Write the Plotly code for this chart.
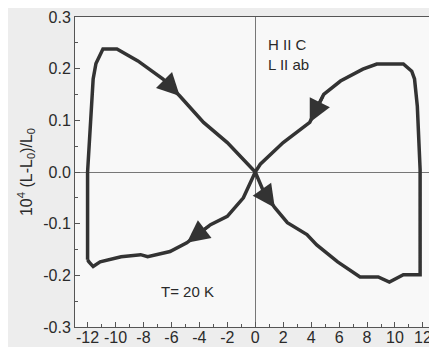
import plotly.graph_objects as go

# Magnetic field H (kOe) and magnetostriction 10^4 (L-L0)/L0, traced along the loop
field = [-12.0, -12.0, -11.6, -11.4, -10.9, -9.9, -8.4, -6.6, -5.4, -3.7, -2.0, -0.85, 0.0,
         0.6, 1.4, 2.3, 3.7, 4.4, 5.9, 7.5, 8.8, 9.6, 10.6, 11.8, 11.8, 11.6, 11.4, 11.2,
         10.6, 8.7, 7.7, 6.1, 4.9, 3.9, 2.0, 0.36, 0.0,
         -0.85, -2.0, -3.2, -4.9, -6.1, -7.7, -8.2, -9.6, -11.1, -11.6, -11.9, -12.0]
strain = [-0.17, 0.0, 0.18, 0.21, 0.238, 0.238, 0.215, 0.18, 0.147, 0.096, 0.057, 0.024, 0.0,
          -0.038, -0.069, -0.098, -0.121, -0.141, -0.174, -0.203, -0.203, -0.213, -0.199, -0.199, 0.005, 0.127, 0.18, 0.195,
          0.209, 0.209, 0.199, 0.176, 0.15, 0.096, 0.057, 0.015, 0.0,
          -0.05, -0.086, -0.102, -0.137, -0.154, -0.164, -0.16, -0.164, -0.174, -0.183, -0.174, -0.17]
arrow_idx = [8, 14, 33, 40]

x_ticks = [-12, -10, -8, -6, -4, -2, 0, 2, 4, 6, 8, 10, 12]
x_tick_labels = ["-12", "-10", "-8", "-6", "-4", "-2", "0", "2", "4", "6", "8", "10", "12"]
y_ticks = [-0.3, -0.2, -0.1, 0.0, 0.1, 0.2, 0.3]
y_tick_labels = ["-0.3", "-0.2", "-0.1", "0.0", "0.1", "0.2", "0.3"]

line_color = "#333333"
font = dict(family="Liberation Sans, Arial, sans-serif", size=16, color="#2a2a2a")

fig = go.Figure()
fig.add_trace(go.Scatter(x=field, y=strain, mode="lines",
                         line=dict(color=line_color, width=3.5), showlegend=False))

for i in arrow_idx:
    fig.add_annotation(x=field[i], y=strain[i], ax=field[i - 1], ay=strain[i - 1],
                       xref="x", yref="y", axref="x", ayref="y", text="",
                       showarrow=True, arrowhead=2, arrowsize=1.5, arrowwidth=3,
                       arrowcolor=line_color)

fig.add_annotation(x=0.75, y=0.268, xref="x", yref="y", text="H II C<br>L II ab",
                   showarrow=False, xanchor="left", yanchor="top", align="left",
                   font=dict(family=font["family"], size=15, color="#2a2a2a"))
fig.add_annotation(x=-6.9, y=-0.232, xref="x", yref="y", text="T= 20 K",
                   showarrow=False, xanchor="left", yanchor="middle",
                   font=dict(family=font["family"], size=15, color="#2a2a2a"))

axis_common = dict(showline=True, linecolor="#555555", linewidth=1, mirror=True,
                   ticks="inside", ticklen=5, tickcolor="#555555", showgrid=False,
                   zeroline=True, zerolinecolor="#777777", zerolinewidth=1,
                   automargin=False)

fig.update_xaxes(range=[-12.9, 12.65], tickvals=x_ticks, ticktext=x_tick_labels,
                 tickangle=0, ticklabelstandoff=-4,
                 tickfont=dict(family=font["family"], size=16, color="#2a2a2a"),
                 minor=dict(ticks="inside", dtick=1, ticklen=3, tickcolor="#555555"),
                 **axis_common)
fig.update_yaxes(range=[-0.3, 0.3], tickvals=y_ticks, ticktext=y_tick_labels, tickfont=font,
                 minor=dict(ticks="inside", dtick=0.05, ticklen=3, tickcolor="#555555"),
                 title=dict(text="10<sup>4</sup> (L-L<sub>0</sub>)/L<sub>0</sub>",
                            font=font, standoff=6),
                 **axis_common)

# page body adds an 8px margin, so the figure is sized to fit the 437x347 window
fig.update_layout(width=429, height=339, margin=dict(l=67, r=5, t=9, b=20),
                  paper_bgcolor="#ededed", plot_bgcolor="#f8f8f8", font=font)

fig.write_html("out.html")
